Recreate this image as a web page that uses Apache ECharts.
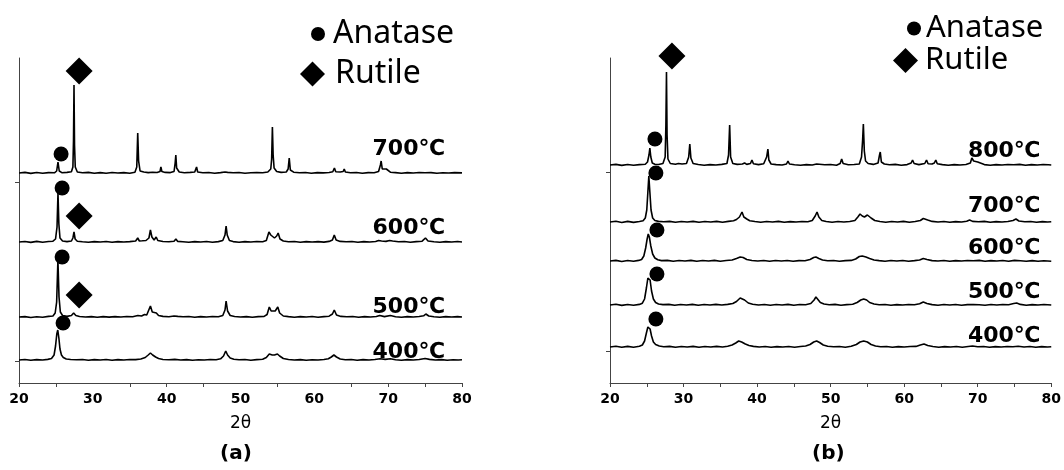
<!DOCTYPE html>
<html>
<head>
<meta charset="utf-8">
<script src="https://cdn.jsdelivr.net/npm/echarts@6/dist/echarts.min.js"></script>
<style>html,body{margin:0;padding:0;background:#fff}#c{width:1064px;height:470px}</style>
</head>
<body>
<div id="c"></div>
<script>
// ---------- DATA ----------
const xTickLabels = [20, 30, 40, 50, 60, 70, 80];
const leftTemps = ['700℃', '600℃', '500℃', '400℃'];
const rightTemps = ['800℃', '700℃', '600℃', '500℃', '400℃'];
const leftOffsets = [210, 141, 66, 23];
const rightOffsets = [218, 161, 122, 78, 36];

const L700 = [[20,0],[20.8,0.6],[21.6,-0.4],[22.4,0.5],[23.2,-0.3],[24,0.4],[24.8,0.2],[25.1,2],[25.28,11],[25.45,2],[25.8,0.3],[26.5,0.6],[27.1,1.2],[27.3,6],[27.38,32],[27.45,88],[27.52,28],[27.62,6],[27.9,1],[28.6,0.2],[29.4,0.6],[30.2,-0.3],[31,0.4],[31.8,-0.2],[32.6,0.5],[33.4,0],[34.2,0.4],[35,-0.2],[35.7,0.8],[35.95,6],[36.08,40],[36.2,12],[36.4,2],[36.9,1],[37.5,0.4],[38.1,0.8],[38.7,0.5],[39.1,1.5],[39.22,6],[39.35,1.5],[39.8,0.6],[40.5,0.4],[41.0,1.5],[41.15,10],[41.24,18],[41.35,5],[41.7,1],[42.4,0.3],[43.2,0.6],[43.8,1],[44.05,6],[44.2,1],[44.9,0.2],[45.7,0.5],[46.5,-0.2],[47.3,0.4],[47.9,1],[48.05,3],[48.25,0.6],[49,0.2],[49.8,0.5],[50.6,-0.2],[51.4,0.3],[52.2,0.5],[53,0.2],[53.7,1],[54.1,4],[54.22,14],[54.32,46],[54.42,18],[54.55,5],[54.9,1.5],[55.5,0.6],[56.2,1],[56.45,4],[56.6,15],[56.75,3],[57.2,0.8],[58,0.2],[58.8,0.5],[59.6,-0.2],[60.4,0.4],[61.2,0.1],[62,0.5],[62.5,1.2],[62.72,5],[62.9,1.2],[63.5,1],[63.9,1.5],[64.05,4],[64.2,1],[64.9,0.3],[65.7,0.5],[66.5,-0.2],[67.3,0.4],[68.1,0.3],[68.7,1.5],[68.95,8],[69.05,12],[69.2,4],[69.45,2],[69.75,4],[69.9,2],[70.3,0.8],[71,0.4],[71.8,-0.2],[72.6,0.4],[73.4,0],[74.2,0.5],[75,0.2],[75.8,0.4],[76.6,-0.2],[77.4,0.3],[78.2,0],[79,0.4],[80,0.1]];
const L600 = [[20,0],[20.8,0.5],[21.6,-0.4],[22.4,0.6],[23.2,-0.2],[24,0.5],[24.6,0.8],[24.95,3],[25.15,15],[25.28,49],[25.4,18],[25.55,4],[25.9,1],[26.5,0.4],[27.1,1],[27.3,4],[27.45,10],[27.6,3],[27.9,0.8],[28.6,0.3],[29.4,-0.2],[30.2,0.4],[31,0],[31.8,0.5],[32.6,-0.3],[33.4,0.4],[34.2,0],[35,0.4],[35.8,1],[36.08,4],[36.3,1],[36.7,1.2],[36.95,3],[37.2,1.5],[37.6,4],[37.8,12],[38.0,5],[38.3,2],[38.58,5],[38.8,1.5],[39.5,0.5],[40.3,0.2],[41,0.8],[41.25,3],[41.5,0.6],[42.2,0.3],[43,-0.2],[43.8,0.4],[44.6,0],[45.4,0.5],[46.2,-0.2],[47,0.4],[47.6,1.5],[47.9,7],[48.05,16],[48.2,7],[48.5,1.5],[49,0.4],[49.8,-0.2],[50.6,0.4],[51.4,0],[52.2,0.5],[53,0.2],[53.5,1.5],[53.85,10],[54.1,7],[54.3,8],[54.6,4],[54.9,6],[55.1,9],[55.35,3],[55.8,1],[56.5,0.3],[57.3,0.5],[58.1,-0.2],[58.9,0.4],[59.7,0],[60.5,0.4],[61.3,-0.1],[62,0.6],[62.45,2],[62.7,7],[62.95,2],[63.5,0.6],[64.3,0.2],[65.1,0.5],[65.9,-0.2],[66.7,0.4],[67.5,0],[68.3,0.5],[68.7,1.5],[68.85,3],[69.1,1],[69.7,0.6],[70.2,1.5],[70.35,3],[70.6,1],[71.4,0.2],[72.2,0.5],[73,-0.2],[73.8,0.4],[74.6,0.8],[75.05,4],[75.4,1],[76.2,0.2],[77,-0.3],[77.8,0.4],[78.6,0],[79.4,0.5],[80,0]];
const L500 = [[20,0],[20.8,0.4],[21.6,-0.5],[22.4,0.3],[23.2,-0.2],[24,0.6],[24.6,1],[24.9,4],[25.1,15],[25.27,57],[25.42,20],[25.6,5],[25.9,1.5],[26.5,0.6],[27.1,1.5],[27.4,4],[27.7,1.5],[28.2,0.5],[29,0],[29.8,0.4],[30.6,-0.3],[31.4,0.4],[32.2,-0.1],[33,0.4],[33.8,0],[34.6,0.5],[35.4,0.2],[36.1,1.5],[36.6,1],[37,2.5],[37.3,2],[37.8,11],[38.05,5],[38.3,3],[38.6,4],[38.9,1.5],[39.5,0.6],[40.3,0.2],[41,1],[41.25,2.5],[41.5,0.6],[42.2,0.2],[43,0.5],[43.8,-0.2],[44.6,0.4],[45.4,0],[46.2,0.5],[47,0.2],[47.6,1.5],[47.9,7],[48.05,16],[48.25,6],[48.6,1.5],[49.2,0.5],[50,0],[50.8,0.4],[51.6,-0.2],[52.4,0.4],[53.2,0.6],[53.6,2.5],[53.9,10],[54.15,6],[54.4,4],[54.7,6],[55.05,10],[55.3,4],[55.8,1],[56.5,0.4],[57.3,-0.2],[58.1,0.4],[58.9,0],[59.7,0.5],[60.5,-0.2],[61.3,0.4],[62,0.8],[62.45,3],[62.7,7],[63,2],[63.6,0.6],[64.4,0.2],[65.2,0.5],[66,-0.2],[66.8,0.4],[67.6,0],[68.4,0.5],[68.85,1.5],[69.5,0.4],[70.3,1.5],[71,0.3],[71.8,-0.2],[72.6,0.4],[73.4,0],[74.2,0.5],[74.8,1.2],[75.1,3],[75.5,1],[76.2,0.3],[77,-0.2],[77.8,0.4],[78.6,0],[79.4,0.4],[80,0]];
const L400 = [[20,0],[20.8,0.5],[21.6,-0.3],[22.4,0.4],[23.2,0],[23.9,0.6],[24.4,1.5],[24.75,5],[24.95,14],[25.12,26],[25.25,30],[25.4,22],[25.55,11],[25.75,5],[26.0,2.5],[26.4,1],[27,0.5],[27.8,0.2],[28.6,0.5],[29.4,-0.2],[30.2,0.4],[31,0],[31.8,0.5],[32.6,-0.2],[33.4,0.4],[34.2,0],[35,0.5],[35.8,0.4],[36.5,1],[37.1,2.5],[37.5,5],[37.8,7],[38.1,5],[38.5,3],[38.9,1.5],[39.5,0.5],[40.3,0.2],[41.1,0.6],[41.9,0],[42.7,0.4],[43.5,-0.2],[44.3,0.3],[45.1,0],[45.9,0.5],[46.7,0.3],[47.3,1.2],[47.7,4],[48.0,9],[48.25,5],[48.6,2],[49.1,0.8],[49.8,0.2],[50.6,0.5],[51.4,-0.2],[52.2,0.4],[53,0.8],[53.5,2.5],[53.9,6],[54.3,5],[54.6,5],[55.0,6],[55.3,4],[55.8,1.5],[56.5,0.5],[57.3,0],[58.1,0.4],[58.9,-0.2],[59.7,0.3],[60.5,0],[61.3,0.5],[61.9,1.2],[62.3,3],[62.65,5],[63,3],[63.5,1],[64.2,0.3],[65,0.5],[65.8,-0.2],[66.6,0.4],[67.4,0],[68.2,0.5],[68.9,1.2],[69.6,0.6],[70.3,1.2],[71,0.3],[71.8,-0.2],[72.6,0.4],[73.4,0],[74.2,0.5],[75,1.5],[75.6,0.6],[76.4,0],[77.2,0.4],[78,-0.2],[78.8,0.3],[79.5,0],[80,0.3]];

const R800 = [[20,0],[20.8,0.6],[21.6,-0.4],[22.4,0.5],[23.2,-0.3],[24,0.4],[24.8,0.8],[25.1,3],[25.3,10],[25.42,17],[25.55,8],[25.75,2],[26.1,0.8],[26.6,0.5],[27.2,1.5],[27.5,8],[27.6,40],[27.68,93],[27.76,30],[27.88,6],[28.2,1.5],[28.9,0.8],[29.3,1.5],[29.55,3],[29.8,1],[30.4,1.5],[30.7,8],[30.85,21],[31.0,7],[31.3,1.5],[32,0.5],[32.8,-0.2],[33.6,0.4],[34.4,0],[35.2,0.6],[35.9,1.5],[36.12,10],[36.27,40],[36.4,8],[36.7,1.5],[37.3,0.6],[38.0,1],[38.3,2],[38.6,0.6],[39.1,1.5],[39.3,5],[39.5,1.2],[40.2,0.4],[40.9,1.2],[41.3,8],[41.47,16],[41.6,5],[41.9,1],[42.6,0.4],[43.4,0],[44.0,1],[44.2,4],[44.4,1],[45.1,0.3],[45.9,-0.2],[46.7,0.4],[47.5,0],[48.1,1],[48.26,3],[48.45,0.8],[49.2,0.2],[50,0.5],[50.8,-0.2],[51.3,1.5],[51.5,6],[51.7,1.5],[52.4,0.3],[53.2,0.5],[53.9,1],[54.2,8],[54.35,25],[54.45,41],[54.58,14],[54.75,4],[55.1,1.5],[55.8,0.6],[56.45,2],[56.65,10],[56.75,13],[56.9,3],[57.3,1],[58,0.3],[58.8,0.6],[59.6,-0.2],[60.4,0.4],[60.95,2],[61.14,5],[61.35,1.5],[62,0.4],[62.8,1.5],[63.04,5],[63.25,1.2],[63.8,1],[64.1,2],[64.3,5],[64.5,1.2],[65.2,0.4],[66,-0.2],[66.8,0.4],[67.6,0],[68.4,0.5],[69.0,2],[69.2,7],[69.28,9],[69.45,4],[69.7,2],[70.0,3],[70.2,1],[70.9,0.4],[71.7,-0.2],[72.5,0.4],[73.3,0],[74.1,0.5],[74.9,0.2],[75.7,0.6],[76.5,-0.2],[77.3,0.4],[78.1,0],[78.9,0.5],[79.6,0.2],[80,0]];
const R700 = [[20,0],[20.8,0.7],[21.6,-0.5],[22.4,0.6],[23.2,-0.4],[24,0.5],[24.5,1.2],[24.8,4],[25.0,12],[25.15,30],[25.28,46],[25.42,30],[25.58,12],[25.8,4],[26.1,1.5],[26.6,0.6],[27.3,0.2],[28.1,0.6],[28.9,-0.3],[29.7,0.5],[30.5,0],[31.3,0.6],[32.1,-0.3],[32.9,0.5],[33.7,0],[34.5,0.6],[35.3,-0.2],[36.1,0.6],[36.8,1.2],[37.2,2.5],[37.6,5],[37.95,10],[38.2,5],[38.6,3],[39,1.2],[39.7,0.5],[40.5,-0.2],[41.3,0.5],[42.1,0],[42.9,0.6],[43.7,-0.3],[44.5,0.4],[45.3,0],[46.1,0.5],[46.9,0.2],[47.5,1.5],[47.9,6],[48.15,10],[48.4,5],[48.8,1.5],[49.4,0.5],[50.2,-0.2],[51,0.5],[51.8,0],[52.6,0.5],[53.3,1.5],[53.7,5],[54.0,8],[54.3,6],[54.6,5],[55.0,7],[55.26,9],[55.5,4],[56,1.5],[56.7,0.5],[57.5,-0.2],[58.3,0.5],[59.1,0],[59.9,0.6],[60.7,-0.2],[61.5,0.5],[62.2,1.5],[62.6,3.5],[62.86,5],[63.2,2],[63.8,0.6],[64.6,0],[65.4,0.5],[66.2,-0.3],[67,0.4],[67.8,0],[68.5,0.8],[68.9,2],[69.3,0.6],[70.1,0.3],[70.9,0.6],[71.7,-0.2],[72.5,0.4],[73.3,0],[74.1,0.5],[74.8,1.5],[75.2,3],[75.6,1],[76.4,0.2],[77.2,0.5],[78,-0.3],[78.8,0.4],[79.5,0],[80,0.3]];
const R600 = [[20,0],[20.8,0.6],[21.6,-0.5],[22.4,0.5],[23.2,-0.3],[23.9,0.6],[24.3,1.5],[24.6,5],[24.85,13],[25.05,22],[25.2,27],[25.35,24],[25.55,15],[25.8,7],[26.1,3],[26.5,1.2],[27,0.4],[27.8,0.6],[28.6,-0.3],[29.4,0.5],[30.2,0],[31,0.6],[31.8,-0.3],[32.6,0.5],[33.4,0],[34.2,0.6],[35,-0.2],[35.8,0.5],[36.6,1],[37.2,2.5],[37.7,4],[38.1,3.5],[38.6,1.5],[39.3,0.5],[40.1,0],[40.9,0.5],[41.7,-0.3],[42.5,0.5],[43.3,0],[44.1,0.5],[44.9,-0.2],[45.7,0.4],[46.5,0.3],[47.2,1.5],[47.7,3.5],[48.0,4],[48.4,2.5],[48.9,1],[49.6,0.3],[50.4,0.5],[51.2,-0.2],[52,0.4],[52.8,0.6],[53.4,2],[53.9,4.5],[54.3,5],[54.8,4],[55.3,2.5],[55.9,1],[56.6,0.4],[57.4,-0.2],[58.2,0.5],[59,0],[59.8,0.5],[60.6,-0.2],[61.4,0.4],[62.1,1],[62.6,2.5],[63.1,1.5],[63.8,0.4],[64.6,0],[65.4,0.5],[66.2,-0.3],[67,0.4],[67.8,0],[68.6,0.5],[69.4,0.2],[70.2,0.6],[71,-0.2],[71.8,0.4],[72.6,0],[73.4,0.5],[74.2,-0.2],[75,0.6],[75.8,0.2],[76.6,-0.2],[77.4,0.4],[78.2,-0.3],[79,0.3],[80,-0.2]];
const R500 = [[20,0],[20.8,0.7],[21.6,-0.4],[22.4,0.5],[23.2,-0.2],[24,0.6],[24.4,1.8],[24.7,6],[24.95,17],[25.15,27],[25.3,29],[25.45,25],[25.65,14],[25.9,6],[26.2,2.5],[26.6,1],[27.2,0.4],[28,0.6],[28.8,-0.3],[29.6,0.5],[30.4,0],[31.2,0.6],[32,-0.3],[32.8,0.5],[33.6,0],[34.4,0.6],[35.2,0],[36,0.6],[36.7,1.5],[37.2,3.5],[37.7,7],[37.95,8],[38.3,5],[38.8,2],[39.4,0.8],[40.2,0],[41,0.5],[41.8,-0.2],[42.6,0.5],[43.4,0],[44.2,0.6],[45,-0.2],[45.8,0.5],[46.6,0.2],[47.3,1.5],[47.75,5],[48.0,8],[48.2,6],[48.6,2.5],[49.1,1],[49.8,0.3],[50.6,0.6],[51.4,-0.2],[52.2,0.4],[53,0.8],[53.6,2.5],[54.1,5],[54.5,6],[54.9,5],[55.3,2.5],[55.9,1],[56.6,0.3],[57.4,0.5],[58.2,-0.2],[59,0.4],[59.8,0],[60.6,0.5],[61.4,0.2],[62.1,1.2],[62.6,3],[63.1,1.5],[63.8,0.4],[64.6,-0.2],[65.4,0.5],[66.2,0],[67,0.5],[67.8,-0.2],[68.6,0.4],[69.4,0.5],[70.2,0.3],[71,-0.2],[71.8,0.5],[72.6,0],[73.4,0.5],[74.2,0.3],[74.9,1.5],[75.3,2],[75.8,0.6],[76.6,-0.2],[77.4,0.4],[78.2,0],[79,0.5],[80,0]];
const R400 = [[20,0],[20.8,0.7],[21.6,-0.3],[22.4,0.6],[23.2,-0.2],[24,0.7],[24.4,2],[24.7,6],[24.95,14],[25.15,20],[25.3,21],[25.45,18],[25.65,11],[25.9,5],[26.2,2.5],[26.7,1],[27.3,0.3],[28.1,0.6],[28.9,-0.3],[29.7,0.5],[30.5,0],[31.3,0.6],[32.1,-0.2],[32.9,0.5],[33.7,0],[34.5,0.6],[35.3,0],[36,0.8],[36.6,2],[37.1,4],[37.5,6],[37.9,5],[38.4,3],[38.9,1.5],[39.5,0.6],[40.3,0],[41.1,0.5],[41.9,-0.2],[42.7,0.4],[43.5,0],[44.3,0.5],[45.1,-0.2],[45.9,0.5],[46.6,1],[47.2,2.5],[47.7,5],[48.1,6],[48.5,4.5],[49,2],[49.6,0.8],[50.4,0.2],[51.2,0.5],[52,-0.2],[52.8,0.8],[53.5,2.5],[54.0,5],[54.5,6],[55.0,5],[55.5,2.5],[56.1,1],[56.8,0.3],[57.6,0.5],[58.4,-0.2],[59.2,0.4],[60,0],[60.8,0.5],[61.6,0.6],[62.2,2],[62.7,3],[63.2,1.5],[63.9,0.5],[64.7,-0.2],[65.5,0.4],[66.3,0],[67.1,0.5],[67.9,-0.2],[68.7,0.5],[69.3,1],[70,0.3],[70.8,0.5],[71.6,-0.2],[72.4,0.4],[73.2,0],[74,0.5],[74.8,0.3],[75.5,0.8],[76.3,0],[77.1,0.5],[77.9,-0.2],[78.7,0.4],[79.5,0],[80,0.3]];

const leftTraces = [L700, L600, L500, L400];
const rightTraces = [R800, R700, R600, R500, R400];

// phase markers (2θ, stacked intensity)
const leftAnatase = [[25.7,229],[25.84,195],[25.84,126],[25.97,60]];
const leftRutile = [[28.14,312],[28.14,167],[28.14,88]];
const rightAnatase = [[26.11,244],[26.24,210],[26.38,153],[26.38,109],[26.24,64]];
const rightRutile = [[28.42,327]];

// temperature label anchors (2θ, stacked intensity)
const leftLabelAt = [[72.8,234],[72.8,155],[72.8,76],[72.8,31]];
const rightLabelAt = [[73.6,232],[73.6,177],[73.6,135],[73.6,91],[73.6,47]];

// ---------- CHART ----------
const chart = echarts.init(document.getElementById('c'), null, {renderer: 'canvas'});
const axisColor = '#444';
const tickFont = {fontFamily: 'DejaVu Sans', fontWeight: 'bold', fontSize: 14, color: '#000'};

function xAxisDef(gi, tickVals) {
  return {
    type: 'value', gridIndex: gi, min: 20, max: 80, interval: 10,
    name: '2θ', nameLocation: 'middle', nameGap: 32,
    nameTextStyle: {fontFamily: 'DejaVu Sans', fontSize: 17, color: '#000'},
    axisLine: {lineStyle: {color: axisColor, width: 1}},
    axisTick: {show: true, inside: false, length: 4, customValues: tickVals, lineStyle: {color: axisColor}},
    axisLabel: {margin: 9, customValues: xTickLabels, ...tickFont},
    splitLine: {show: false}
  };
}
function yAxisDef(gi, tickVals) {
  return {
    type: 'value', gridIndex: gi, min: 0, max: 325,
    axisLine: {show: true, lineStyle: {color: axisColor, width: 1}},
    axisTick: {show: true, inside: false, length: 4, customValues: tickVals, lineStyle: {color: axisColor}},
    axisLabel: {show: false},
    splitLine: {show: false}
  };
}

const series = [];
function addTraces(traces, offsets, gi) {
  traces.forEach((t, i) => {
    series.push({
      type: 'line', xAxisIndex: gi, yAxisIndex: gi, showSymbol: false, symbol: 'none',
      silent: true, z: 2,
      lineStyle: {color: '#000', width: 1.6},
      data: t.map(p => [p[0], p[1] + offsets[i]])
    });
  });
}
addTraces(leftTraces, leftOffsets, 0);
addTraces(rightTraces, rightOffsets, 1);

function addMarkers(name, data, gi, symbol, size) {
  series.push({
    name, type: 'scatter', xAxisIndex: gi, yAxisIndex: gi, symbol, symbolSize: size,
    clip: false, z: 5, itemStyle: {color: '#000', opacity: 1}, data
  });
}
addMarkers('Anatase', leftAnatase, 0, 'circle', 15);
addMarkers('Rutile', leftRutile, 0, 'diamond', 27);
addMarkers('Anatase', rightAnatase, 1, 'circle', 15);
addMarkers('Rutile', rightRutile, 1, 'diamond', 27);

function addLabels(pos, texts, gi) {
  series.push({
    type: 'scatter', xAxisIndex: gi, yAxisIndex: gi, symbolSize: 1, silent: true, z: 6,
    itemStyle: {color: 'rgba(0,0,0,0)', opacity: 1},
    label: {show: true, position: 'inside', formatter: p => texts[p.dataIndex],
      fontFamily: 'DejaVu Sans', fontWeight: 'bold', fontSize: 22, color: '#000', opacity: 1},
    data: pos
  });
}
addLabels(leftLabelAt, leftTemps, 0);
addLabels(rightLabelAt, rightTemps, 1);

const legTxt = (fs, padLeft) => ({fontFamily: 'Noto Sans', fontSize: fs, color: '#000', padding: [0, 0, 0, padLeft]});
chart.setOption({
  animation: false,
  backgroundColor: '#fff',
  title: [
    {text: '(a)', left: 220, top: 444, padding: 0, textStyle: {fontFamily: 'DejaVu Sans', fontWeight: 'bold', fontSize: 20, color: '#000'}},
    {text: '(b)', left: 812, top: 444, padding: 0, textStyle: {fontFamily: 'DejaVu Sans', fontWeight: 'bold', fontSize: 20, color: '#000'}}
  ],
  legend: [
    {data: [{name: 'Anatase', icon: 'circle'}], left: 311, top: 18, padding: 0, itemWidth: 20, itemHeight: 14, selectedMode: false, textStyle: legTxt(32, 0)},
    {data: [{name: 'Rutile', icon: 'diamond'}], left: 300, top: 58, padding: 0, itemWidth: 25, itemHeight: 25, selectedMode: false, textStyle: legTxt(32, 5)},
    {data: [{name: 'Anatase', icon: 'circle'}], left: 907, top: 13, padding: 0, itemWidth: 14, itemHeight: 14, selectedMode: false, textStyle: legTxt(31, 0)},
    {data: [{name: 'Rutile', icon: 'diamond'}], left: 893, top: 45, padding: 0, itemWidth: 25, itemHeight: 25, selectedMode: false, textStyle: legTxt(31, 2)}
  ],
  grid: [
    {left: 19, right: 602, top: 58, bottom: 87},
    {left: 610, right: 12, top: 58, bottom: 87}
  ],
  xAxis: [
    xAxisDef(0, [20,25,35,40,45,55,65,70,75,80]),
    xAxisDef(1, [20,25,30,35,40,45,50,55,60,65,70,75,80])
  ],
  yAxis: [
    yAxisDef(0, [22, 201]),
    yAxisDef(1, [32, 211])
  ],
  series
});
</script>
</body>
</html>
